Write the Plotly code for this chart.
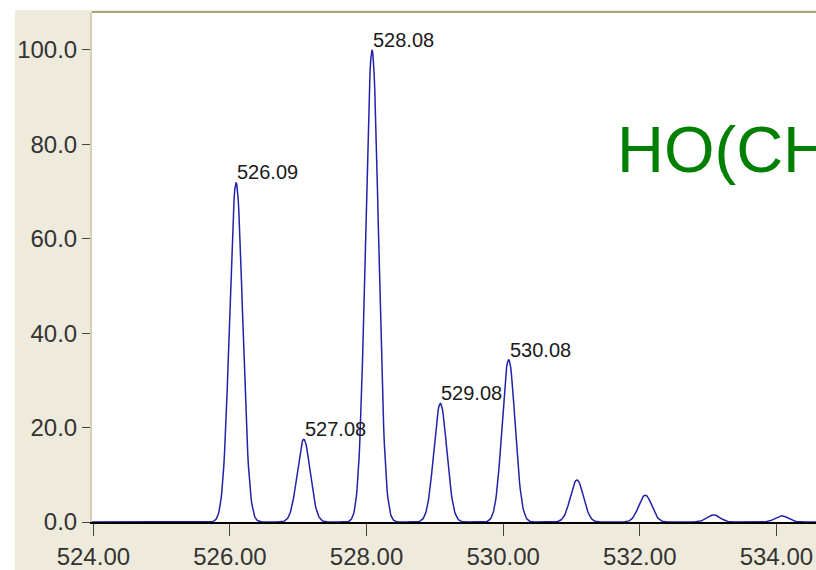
import numpy as np
import plotly.graph_objects as go

# Isotope peak list (m/z, relative intensity %)
peak_mz = [526.09, 527.08, 528.08, 529.08, 530.08, 531.08, 532.08, 533.08, 534.08]
peak_int = [71.9, 17.5, 100.0, 25.1, 34.4, 8.9, 5.7, 1.5, 1.3]

# Peaks that carry an m/z label
labeled_mz = [526.09, 527.08, 528.08, 529.08, 530.08]
labeled_text = ["526.09", "527.08", "528.08", "529.08", "530.08"]

x_ticks = [524, 526, 528, 530, 532, 534]
y_ticks = [0, 20, 40, 60, 80, 100]

formula_text = "HO(CH"

# Profile spectrum: each centroid broadened with a Gaussian line shape
sigma = 0.095
mz = np.arange(523.98, 534.60, 0.01)
profile = np.zeros_like(mz)
for c, h in zip(peak_mz, peak_int):
    profile += h * np.exp(-((mz - c) ** 2) / (2 * sigma ** 2))

fig = go.Figure()
fig.add_trace(go.Scatter(
    x=mz, y=profile, mode="lines",
    line=dict(color="#2222aa", width=1.5),
    hoverinfo="skip", showlegend=False,
))

lab_h = {c: h for c, h in zip(peak_mz, peak_int)}
for c, t in zip(labeled_mz, labeled_text):
    fig.add_annotation(
        x=c, y=lab_h[c], text=t, showarrow=False,
        xanchor="left", yanchor="bottom", xshift=-1, yshift=-3,
        font=dict(family="Liberation Sans, Arial", size=20, color="#1a1a1a"),
    )

# Formula heading, running off the right edge of the plot
fig.add_annotation(
    x=0.723, y=0.730, xref="paper", yref="paper", yanchor="middle",
    xanchor="left", text=formula_text, showarrow=False,
    font=dict(family="Liberation Sans, Arial", size=65, color="#008000"),
)

# White strips along the top and left edge of the beige frame
fig.add_shape(
    type="rect", xref="paper", yref="paper",
    x0=-0.2, x1=1.1, y0=1.0039, y1=1.1,
    fillcolor="white", line=dict(width=0), layer="below",
)
fig.add_shape(
    type="rect", xref="paper", yref="paper",
    x0=-0.2, x1=-0.1064, y0=-0.2, y1=1.1,
    fillcolor="white", line=dict(width=0), layer="below",
)
# Top border of the plotting area
fig.add_shape(
    type="line", xref="paper", yref="paper",
    x0=0, x1=1, y0=1, y1=1,
    line=dict(color="#ADA37C", width=2),
)

fig.update_layout(
    width=816, height=570,
    margin=dict(l=92, r=0, t=12, b=46),
    paper_bgcolor="#EFEBDC", plot_bgcolor="white",
    font=dict(family="Liberation Sans, Arial", color="#333333"),
)
fig.update_xaxes(
    range=[523.98, 534.58], tickvals=x_ticks,
    ticktext=[f"{v:.2f}" for v in x_ticks],
    showgrid=False, zeroline=False,
    showline=True, linecolor="black", linewidth=1.5,
    ticks="outside", ticklen=12, tickcolor="#444444", tickwidth=1,
    tickfont=dict(size=24, color="#333333"),
)
fig.update_yaxes(
    range=[0, 108], tickvals=y_ticks,
    ticktext=[f"{v:.1f}" for v in y_ticks],
    showgrid=False, zeroline=False,
    showline=True, linecolor="#D6CFB2", linewidth=2,
    ticks="outside", ticklen=8, tickcolor="#444444", tickwidth=1,
    tickfont=dict(size=24, color="#333333"),
)

fig.write_html("out.html")
